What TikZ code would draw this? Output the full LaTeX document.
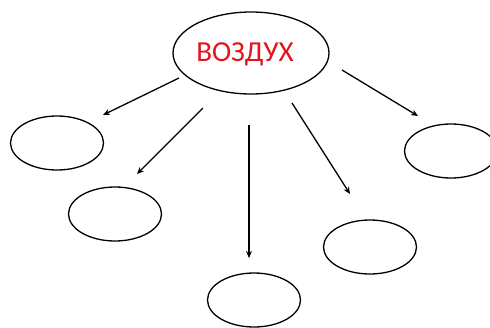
\documentclass[tikz,border=0pt]{standalone}
\usepackage{fontspec}
\setmainfont{Carlito}
\usetikzlibrary{shapes.geometric,arrows.meta}
\definecolor{wordred}{RGB}{226,20,30}
\tikzset{
  oval/.style={draw=black, ellipse, line width=1.3pt, inner sep=0pt, minimum width=93pt, minimum height=54pt},
  bigoval/.style={draw=black, ellipse, line width=1.3pt, inner sep=0pt, minimum width=156pt, minimum height=82pt},
  arr/.style={line width=1.3pt, -{Stealth[length=7pt,width=6pt]}}
}
\begin{document}
\begin{tikzpicture}[x=1pt,y=-1pt]
\useasboundingbox (0,0) rectangle (490,327);
\clip (0,0) rectangle (490,327);
\node[bigoval] (c) at (251,53) {};
\node[text=wordred, font=\fontsize{29}{29}\selectfont] (t) at (245,54) {ВОЗДУХ};
\node[oval] (e1) at (57,143) {};
\node[oval] (e2) at (115,214) {};
\node[oval] (e3) at (254,300) {};
\node[oval] (e4) at (370,247) {};
\node[oval] (e5) at (451,151) {};
\coordinate (s1) at (179,78);  \coordinate (t1) at (103,115);
\coordinate (s2) at (203,108); \coordinate (t2) at (137,174);
\coordinate (s3) at (249,125); \coordinate (t3) at (249,258);
\coordinate (s4) at (292,103); \coordinate (t4) at (350,194);
\coordinate (s5) at (342,70);  \coordinate (t5) at (418,116);
\draw[arr] (s1) -- (t1);
\draw[arr] (s2) -- (t2);
\draw[arr] (s3) -- (t3);
\draw[arr] (s4) -- (t4);
\draw[arr] (s5) -- (t5);
\end{tikzpicture}
\end{document}
